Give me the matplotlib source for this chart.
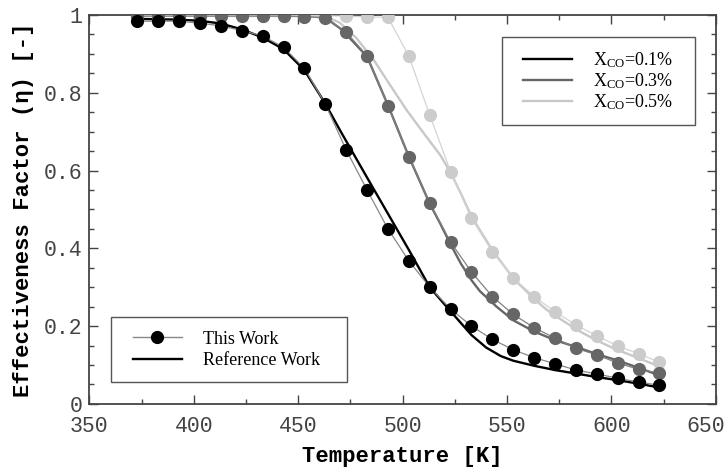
import matplotlib
matplotlib.use("Agg")
import matplotlib.pyplot as plt
import matplotlib.transforms as mtransforms
from matplotlib.lines import Line2D
from matplotlib.patches import Rectangle
from matplotlib.ticker import MultipleLocator, FuncFormatter

# "This Work" points (every 10 K)
temp = [373, 383, 393, 403, 413, 423, 433, 443, 453, 463, 473, 483, 493,
        503, 513, 523, 533, 543, 553, 563, 573, 583, 593, 603, 613, 623]
eta_01 = [0.984, 0.984, 0.984, 0.979, 0.972, 0.960, 0.946, 0.917, 0.863, 0.771,
          0.653, 0.550, 0.450, 0.368, 0.300, 0.244, 0.200, 0.166, 0.139, 0.119,
          0.103, 0.087, 0.077, 0.066, 0.056, 0.048]
eta_03 = [0.997, 0.997, 0.997, 0.997, 0.997, 0.997, 0.997, 0.997, 0.996, 0.993,
          0.956, 0.895, 0.767, 0.636, 0.516, 0.416, 0.339, 0.276, 0.230, 0.196,
          0.169, 0.143, 0.126, 0.105, 0.089, 0.079]
eta_05 = [0.998, 0.998, 0.998, 0.998, 0.998, 0.998, 0.998, 0.998, 0.998, 0.998,
          0.997, 0.995, 0.994, 0.894, 0.743, 0.597, 0.477, 0.391, 0.324, 0.276,
          0.237, 0.203, 0.175, 0.149, 0.129, 0.107]

# "Reference Work" curves
ref_t_01 = [373, 393, 403, 413, 423, 433, 443, 453, 463, 470, 483, 493, 503,
            513, 523, 533, 540, 547, 553, 563, 573, 583, 593, 603, 613, 623]
ref_01 = [0.990, 0.988, 0.985, 0.978, 0.963, 0.942, 0.912, 0.858, 0.772, 0.704,
          0.582, 0.489, 0.396, 0.300, 0.238, 0.177, 0.145, 0.123, 0.111, 0.098,
          0.087, 0.078, 0.069, 0.061, 0.052, 0.042]
ref_t_03 = [373, 453, 463, 471, 483, 493, 503, 513, 518, 523, 528, 533, 537,
            545, 553, 563, 573, 585, 593, 601, 613, 623]
ref_03 = [0.998, 0.998, 0.993, 0.962, 0.893, 0.768, 0.636, 0.515, 0.464, 0.410,
          0.360, 0.318, 0.290, 0.250, 0.215, 0.186, 0.164, 0.143, 0.128, 0.115,
          0.093, 0.073]
ref_t_05 = [373, 463, 470, 478, 486, 494, 502, 510, 518, 523, 528, 533, 543,
            553, 563, 569, 577, 585, 593, 601, 609, 617, 623]
ref_05 = [0.998, 0.997, 0.980, 0.940, 0.886, 0.820, 0.755, 0.697, 0.640, 0.595,
          0.540, 0.482, 0.395, 0.323, 0.270, 0.242, 0.213, 0.186, 0.163, 0.143,
          0.126, 0.109, 0.096]

plt.rcParams['mathtext.fontset'] = 'custom'
plt.rcParams['mathtext.rm'] = 'Liberation Serif'

fig = plt.figure(figsize=(7.26, 4.68), dpi=100)
ax = fig.add_axes([0.123, 0.137, 0.863, 0.831])

# reference curves (thick, no markers)
ax.plot(ref_t_01, ref_01, color='#000000', lw=1.7, zorder=3)
ax.plot(ref_t_03, ref_03, color='#666666', lw=1.7, zorder=3)
ax.plot(ref_t_05, ref_05, color='#c8c8c8', lw=1.7, zorder=3)

# this work (thin line + filled circles)
ax.plot(temp, eta_05, color='#d4d4d4', lw=0.9, marker='o', ms=9.5,
        mfc='#cccccc', mec='none', zorder=4)
ax.plot(temp, eta_03, color='#808080', lw=0.9, marker='o', ms=9.5,
        mfc='#666666', mec='none', zorder=4)
ax.plot(temp, eta_01, color='#888888', lw=0.9, marker='o', ms=9.5,
        mfc='#000000', mec='none', zorder=4)

ax.set_xlim(350, 650)
ax.set_ylim(0, 1)
ax.set_xticks([350, 400, 450, 500, 550, 600, 650])
ax.xaxis.set_minor_locator(MultipleLocator(25))
ax.yaxis.set_major_locator(MultipleLocator(0.2))
ax.yaxis.set_minor_locator(MultipleLocator(0.05))
ax.yaxis.set_major_formatter(FuncFormatter(lambda v, p: '%g' % round(v, 2)))

mono = 'Liberation Mono'
ax.tick_params(which='both', direction='in', top=True, right=True,
               color='#444444', width=1.0)
ax.tick_params(which='major', length=6.5)
ax.tick_params(which='minor', length=3.5)
ax.tick_params(axis='x', pad=8.5)
ax.tick_params(axis='y', pad=5)
for lab in ax.get_xticklabels() + ax.get_yticklabels():
    lab.set_fontfamily(mono)
    lab.set_fontsize(15.5)
    lab.set_color('#444444')
for s in ax.spines.values():
    s.set_color('#444444')
    s.set_linewidth(1.3)

ax.set_xlabel('Temperature [K]', fontfamily=mono, fontweight='bold',
              fontsize=16, labelpad=7)
ax.set_ylabel('Effectiveness Factor (η) [-]', fontfamily=mono,
              fontweight='bold', fontsize=16, labelpad=7)

# legend boxes
ax.add_patch(Rectangle((0.6584, 0.7172), 0.3081, 0.2270, transform=ax.transAxes,
                       facecolor='white', edgecolor='#555555', lw=1.0, zorder=4.9))
ax.add_patch(Rectangle((0.0343, 0.0573), 0.3767, 0.1671, transform=ax.transAxes,
                       facecolor='white', edgecolor='#555555', lw=1.0, zorder=4.9))

# legend for concentrations
conc_handles = [
    Line2D([], [], color='#000000', lw=1.7),
    Line2D([], [], color='#666666', lw=1.7),
    Line2D([], [], color='#c8c8c8', lw=1.7),
]
conc_labels = [r'$\mathrm{X_{CO}}$=0.1%', r'$\mathrm{X_{CO}}$=0.3%',
               r'$\mathrm{X_{CO}}$=0.5%']
leg1 = ax.legend(conc_handles, conc_labels, loc='center left',
                 bbox_to_anchor=(0.692, 0.829), borderaxespad=0, borderpad=0,
                 prop={'family': 'Liberation Serif', 'size': 13},
                 frameon=False, handlelength=2.7, handletextpad=1.2,
                 labelspacing=0.07)
ax.add_artist(leg1)

# legend for source
src_handles = [
    Line2D([], [], color='#888888', lw=1.0, marker='o', ms=9.5,
           mfc='#000000', mec='none'),
    Line2D([], [], color='#000000', lw=1.7),
]
leg2 = ax.legend(src_handles, ['This Work', 'Reference Work'], loc='center left',
                 bbox_to_anchor=(0.0694, 0.1388), borderaxespad=0, borderpad=0,
                 prop={'family': 'Liberation Serif', 'size': 13},
                 frameon=False, handlelength=2.7, handletextpad=1.2,
                 labelspacing=0.26)

# the 650 label sits a bit to the left so it stays inside the picture
fig.canvas.draw()
for tick in ax.xaxis.get_major_ticks():
    if abs(tick.get_loc() - 650) < 1e-6:
        tick.label1.set_transform(tick.label1.get_transform() +
                                  mtransforms.ScaledTranslation(-0.10, 0, fig.dpi_scale_trans))

fig.savefig('out.png', dpi=100)
